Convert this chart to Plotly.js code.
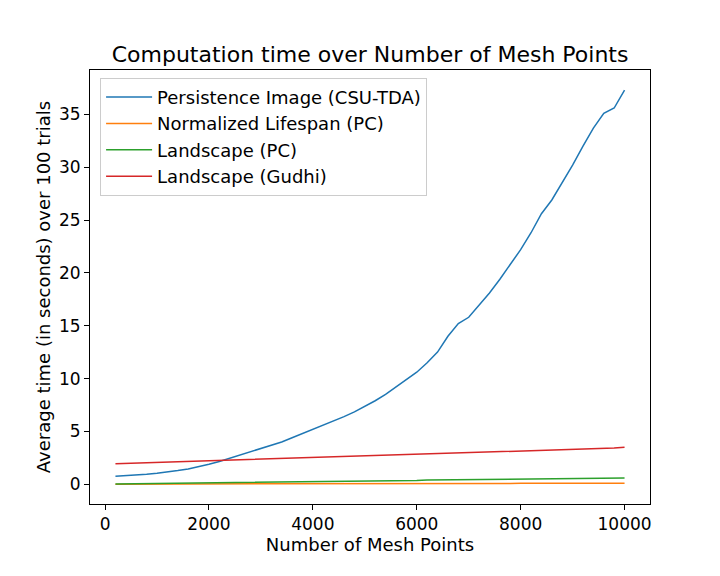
<!DOCTYPE html>
<html>
<head>
<meta charset="utf-8">
<script src="https://cdn.plot.ly/plotly-3.0.1.min.js"></script>
<style>
  html, body { margin: 0; padding: 0; background: #fff; }
  #chart { width: 720px; height: 576px; }
</style>
</head>
<body>
<div id="chart"></div>
<script>
'use strict';

// nombre de points du maillage
var meshPoints = [];
for (var n = 200; n <= 10000; n += 200) meshPoints.push(n);

// temps moyen (s)
var persistenceImage = [
  0.75, 0.80, 0.88, 0.95, 1.05, 1.15, 1.30, 1.45, 1.65, 1.90,
  2.15, 2.45, 2.75, 3.05, 3.35, 3.65, 4.00, 4.40, 4.80, 5.15,
  5.55, 5.95, 6.40, 6.85, 7.35, 7.90, 8.50, 9.20, 9.90, 10.60,
  11.50, 12.50, 14.00, 15.20, 15.80, 16.90, 18.10, 19.40, 20.80, 22.20,
  23.80, 25.60, 26.90, 28.50, 30.20, 32.00, 33.70, 35.10, 35.60, 37.30
];
var normalizedLifespan = [
  0.01, 0.01, 0.01, 0.01, 0.02, 0.02, 0.02, 0.02, 0.02, 0.03,
  0.03, 0.03, 0.03, 0.03, 0.04, 0.04, 0.04, 0.04, 0.04, 0.05,
  0.05, 0.05, 0.05, 0.05, 0.06, 0.06, 0.06, 0.06, 0.06, 0.07,
  0.07, 0.07, 0.07, 0.07, 0.08, 0.08, 0.08, 0.08, 0.08, 0.09,
  0.09, 0.09, 0.09, 0.09, 0.10, 0.10, 0.10, 0.10, 0.10, 0.10
];
var landscapePC = [
  0.03, 0.04, 0.05, 0.06, 0.07, 0.08, 0.09, 0.10, 0.11, 0.12,
  0.13, 0.14, 0.15, 0.16, 0.17, 0.19, 0.20, 0.21, 0.22, 0.23,
  0.24, 0.25, 0.27, 0.28, 0.29, 0.30, 0.31, 0.32, 0.34, 0.35,
  0.40, 0.41, 0.41, 0.42, 0.42, 0.43, 0.44, 0.45, 0.46, 0.47,
  0.48, 0.50, 0.51, 0.52, 0.53, 0.55, 0.56, 0.57, 0.58, 0.59
];
var landscapeGudhi = [
  1.95, 1.98, 2.01, 2.04, 2.07, 2.10, 2.13, 2.16, 2.19, 2.22,
  2.25, 2.28, 2.31, 2.34, 2.37, 2.40, 2.43, 2.46, 2.49, 2.52,
  2.56, 2.59, 2.62, 2.65, 2.68, 2.71, 2.74, 2.77, 2.80, 2.83,
  2.86, 2.89, 2.92, 2.95, 2.98, 3.01, 3.04, 3.07, 3.10, 3.13,
  3.16, 3.20, 3.23, 3.26, 3.29, 3.32, 3.35, 3.38, 3.42, 3.50
];

var seriesNames = [
  'Persistence Image (CSU-TDA)',
  'Normalized Lifespan (PC)',
  'Landscape (PC)',
  'Landscape (Gudhi)'
];
var seriesValues = [persistenceImage, normalizedLifespan, landscapePC, landscapeGudhi];
var seriesColors = ['#1f77b4', '#ff7f0e', '#2ca02c', '#d62728'];

var traces = seriesValues.map(function(values, i) {
  return {
    type: 'scatter',
    mode: 'lines',
    name: seriesNames[i],
    x: meshPoints,
    y: values,
    line: { color: seriesColors[i], width: 1.5 }
  };
});

var fam = 'DejaVu Sans, sans-serif';

var layout = {
  width: 720,
  height: 576,
  paper_bgcolor: '#fff',
  plot_bgcolor: '#fff',
  margin: { l: 90, r: 70, t: 70, b: 72 },
  font: { family: fam, size: 17, color: '#000' },
  title: {
    text: 'Computation time over Number of Mesh Points',
    font: { family: fam, size: 22, color: '#000' },
    x: 0.514, xanchor: 'center',
    y: 0.905, yanchor: 'middle'
  },
  xaxis: {
    range: [-290, 10490],
    tickvals: [0, 2000, 4000, 6000, 8000, 10000],
    ticktext: ['0', '2000', '4000', '6000', '8000', '10000'],
    ticks: 'outside', ticklen: 5, tickcolor: '#000',
    showgrid: false, zeroline: false,
    showline: true, linecolor: '#000', linewidth: 1, mirror: true,
    tickfont: { size: 17 },
    title: { text: 'Number of Mesh Points', font: { size: 18 }, standoff: 4 }
  },
  yaxis: {
    range: [-1.87, 39.2],
    tickvals: [0, 5, 10, 15, 20, 25, 30, 35],
    ticks: 'outside', ticklen: 5, tickcolor: '#000',
    showgrid: false, zeroline: false,
    showline: true, linecolor: '#000', linewidth: 1, mirror: true,
    tickfont: { size: 17 },
    title: { text: 'Average time (in seconds) over 100 trials', font: { size: 18 }, standoff: 3 }
  },
  showlegend: true,
  legend: {
    x: 0.018, y: 0.982, xanchor: 'left', yanchor: 'top',
    bgcolor: 'rgba(255,255,255,0.8)',
    bordercolor: '#cccccc', borderwidth: 1,
    font: { size: 18 },
    itemwidth: 46,
    tracegroupgap: 0
  }
};

Plotly.newPlot('chart', traces, layout, { displayModeBar: false, staticPlot: true });
</script>
</body>
</html>
